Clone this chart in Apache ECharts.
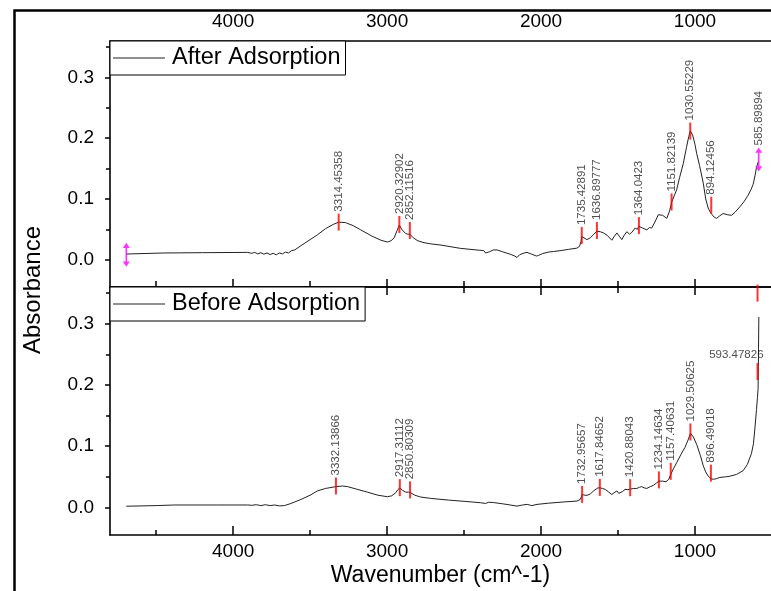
<!DOCTYPE html>
<html>
<head>
<meta charset="utf-8">
<script src="https://cdn.jsdelivr.net/npm/echarts@6/dist/echarts.min.js"></script>
<style>
html,body{margin:0;padding:0;background:#fff;}
#chart{width:771px;height:591px;}
</style>
</head>
<body>
<div id="chart"></div>
<script>
// ---------------- data ----------------
const xMajorTicks = [1000, 2000, 3000, 4000];
const xMinorTicks = [1500, 2500, 3500, 4500];
const yMajorTicks = [0, 0.1, 0.2, 0.3];
const yMinorTicks = [0.05, 0.15, 0.25, 0.35];

const afterWn = [4694,4450,4200,3905,3880,3860,3840,3820,3800,3780,3760,3740,3720,3700,3680,3660,3640,3620,3600,3560,3500,3452,3400,3350,3314,3270,3220,3171,3100,3040,2998,2975,2954,2935,2920,2905,2880,2865,2852,2830,2800,2760,2717,2650,2523,2400,2372,2360,2350,2335,2310,2285,2250,2200,2170,2156,2140,2110,2091,2060,2030,2016,1990,1950,1918,1870,1820,1767,1750,1740,1735,1725,1702,1680,1660,1637,1615,1594,1570,1540,1525,1507,1490,1475,1460,1443,1425,1410,1389,1375,1364,1340,1313,1295,1281,1260,1238,1210,1183,1165,1151,1135,1119,1100,1076,1055,1040,1030,1015,1000,989,970,946,930,914,900,888,875,859,840,817,790,762,740,708,680,655,635,622,610,600,590,586];
const afterAbs = [0.0093,0.011,0.0115,0.012,0.0105,0.012,0.0095,0.0115,0.009,0.011,0.0085,0.0105,0.008,0.011,0.0095,0.0125,0.011,0.015,0.016,0.023,0.033,0.041,0.051,0.058,0.0618,0.061,0.056,0.049,0.039,0.032,0.029,0.031,0.036,0.048,0.057,0.05,0.043,0.042,0.042,0.036,0.031,0.028,0.026,0.024,0.0186,0.0155,0.015,0.011,0.009,0.013,0.016,0.016,0.013,0.009,0.006,0.0035,0.008,0.011,0.012,0.009,0.006,0.007,0.01,0.0125,0.0135,0.015,0.017,0.019,0.022,0.03,0.038,0.036,0.033,0.036,0.041,0.047,0.046,0.044,0.04,0.032,0.038,0.044,0.038,0.033,0.04,0.046,0.042,0.045,0.052,0.05,0.055,0.052,0.049,0.053,0.052,0.062,0.074,0.073,0.068,0.08,0.095,0.105,0.115,0.135,0.158,0.185,0.203,0.212,0.205,0.19,0.175,0.155,0.126,0.1,0.085,0.078,0.074,0.07,0.068,0.072,0.076,0.074,0.073,0.078,0.087,0.096,0.106,0.116,0.124,0.138,0.152,0.16,0.162];

const beforeWn = [4694,4500,4380,4100,3905,3880,3850,3820,3790,3760,3730,3700,3667,3630,3600,3560,3500,3452,3400,3332,3290,3257,3200,3128,3060,2998,2970,2944,2930,2917,2900,2879,2860,2847,2820,2782,2717,2600,2500,2393,2360,2340,2310,2250,2200,2156,2120,2090,2060,2026,1950,1850,1767,1745,1732,1715,1702,1680,1659,1630,1617,1600,1583,1560,1540,1525,1507,1495,1486,1470,1454,1435,1420,1400,1378,1360,1346,1330,1313,1290,1270,1250,1234,1210,1188,1170,1157,1140,1119,1090,1065,1045,1029,1010,989,965,946,930,914,896,881,860,838,800,773,730,687,660,633,620,611,600,594,590,588,587,585];
const beforeAbs = [0.002,0.003,0.004,0.004,0.004,0.0035,0.0045,0.003,0.0045,0.003,0.004,0.0025,0.003,0.006,0.009,0.013,0.02,0.027,0.031,0.034,0.035,0.034,0.03,0.025,0.02,0.0175,0.019,0.024,0.029,0.032,0.028,0.025,0.025,0.024,0.02,0.017,0.0148,0.012,0.01,0.0077,0.0065,0.0085,0.008,0.006,0.004,0.0022,0.004,0.005,0.003,0.005,0.007,0.009,0.0104,0.013,0.021,0.02,0.0197,0.022,0.027,0.032,0.032,0.031,0.0295,0.025,0.021,0.024,0.027,0.023,0.021,0.026,0.0295,0.029,0.03,0.031,0.031,0.033,0.034,0.032,0.031,0.034,0.036,0.04,0.043,0.043,0.042,0.046,0.054,0.063,0.073,0.087,0.098,0.11,0.121,0.115,0.103,0.085,0.068,0.058,0.051,0.047,0.046,0.047,0.049,0.05,0.051,0.054,0.06,0.07,0.088,0.104,0.128,0.16,0.18,0.193,0.23,0.259,0.311];

const afterPeakWn = [3314.45358, 2920.32902, 2852.11516, 1735.42891, 1636.89777, 1364.0423, 1151.82139, 1030.55229, 894.12456];
const afterPeakAbs = [0.0618, 0.058, 0.048, 0.0397, 0.048, 0.056, 0.095, 0.2118, 0.0897];
const afterPeakLabels = ['3314.45358','2920.32902','2852.11516','1735.42891','1636.89777','1364.0423','1151.82139','1030.55229','894.12456'];

const afterMarkWn = [4694, 585.89894];
const afterMarkAbs = [0.0082, 0.165];
const afterMarkLabels = ['', '585.89894'];

const beforePeakWn = [3332.13866, 2917.31112, 2850.80309, 1732.95657, 1617.84652, 1420.88043, 1234.14634, 1157.40631, 1029.50625, 896.49018];
const beforePeakAbs = [0.035, 0.0323, 0.0287, 0.0213, 0.0328, 0.0323, 0.045, 0.059, 0.1233, 0.056];
const beforePeakLabels = ['3332.13866','2917.31112','2850.80309','1732.95657','1617.84652','1420.88043','1234.14634','1157.40631','1029.50625','896.49018'];

const beforeEdgeWn = [593.47826, 593.47826];
const beforeEdgeAbs = [0.35, 0.222];
const beforeEdgeLabels = ['', '593.47826'];

// ---------------- chart ----------------
const FONT = '"Liberation Sans", Arial, sans-serif';
const X_MIN = 506, X_MAX = 4800, Y_MIN = -0.045, Y_MAX = 0.36;
const AXIS_LINE = { show: true, onZero: false, lineStyle: { color: '#000', width: 1.6 } };
const NO_LINE = { show: false, onZero: false };

function pairs(xs, ys, names) {
  return xs.map((x, i) => names ? { value: [x, ys[i]], name: names[i] } : [x, ys[i]]);
}

function xAxisCfg(grid, position, opts) {
  return Object.assign({
    type: 'value', gridIndex: grid, position: position, inverse: true,
    min: X_MIN, max: X_MAX,
    axisLine: NO_LINE, axisTick: { show: false }, axisLabel: { show: false },
    splitLine: { show: false }
  }, opts);
}
function yAxisCfg(grid, opts) {
  return Object.assign({
    type: 'value', gridIndex: grid, position: 'left', min: Y_MIN, max: Y_MAX,
    axisLine: NO_LINE, axisTick: { show: false }, axisLabel: { show: false },
    splitLine: { show: false }
  }, opts);
}
const majorTick = (len) => ({ show: true, inside: true, length: len, customValues: xMajorTicks, lineStyle: { color: '#000', width: 1.5 } });
const minorTick = (len) => ({ show: true, inside: true, length: len, customValues: xMinorTicks, lineStyle: { color: '#000', width: 1.5 } });
const xLabel = (margin) => ({ show: true, customValues: xMajorTicks, margin: margin, formatter: v => String(v),
  fontSize: 19, color: '#000', fontFamily: FONT });
const yLabel = { show: true, customValues: yMajorTicks, margin: 16, formatter: v => v.toFixed(1), fontSize: 19, color: '#000', fontFamily: FONT };

const peakLabel = { show: true, position: 'top', distance: 2, rotate: 90, align: 'left', verticalAlign: 'middle',
  formatter: p => p.name, fontSize: 11.5, color: '#222', fontFamily: FONT };

const chart = echarts.init(document.getElementById('chart'), null, { renderer: 'canvas' });
chart.setOption({
  animation: false,
  backgroundColor: '#fff',
  grid: [
    { left: 110, top: 41, right: 0, height: 246 },
    { left: 110, top: 287, right: 0, height: 248 }
  ],
  xAxis: [
    xAxisCfg(0, 'top', { axisLine: AXIS_LINE, axisLabel: xLabel(10) }),
    xAxisCfg(0, 'bottom', { axisLine: AXIS_LINE, axisTick: majorTick(8) }),
    xAxisCfg(0, 'bottom', { axisTick: minorTick(6) }),
    xAxisCfg(1, 'top', { axisLine: AXIS_LINE, axisTick: majorTick(8) }),
    xAxisCfg(1, 'top', { axisTick: minorTick(6) }),
    xAxisCfg(1, 'bottom', { axisLine: AXIS_LINE, axisTick: majorTick(9), axisLabel: xLabel(7),
      name: 'Wavenumber (cm^-1)', nameLocation: 'middle', nameGap: 29,
      nameTextStyle: { fontSize: 23, color: '#000', fontFamily: FONT } }),
    xAxisCfg(1, 'bottom', { axisTick: minorTick(5) })
  ],
  yAxis: [
    yAxisCfg(0, { axisLine: AXIS_LINE,
      axisTick: { show: true, length: 5, customValues: yMajorTicks, lineStyle: { color: '#000', width: 1.5 } },
      axisLabel: yLabel }),
    yAxisCfg(0, { axisTick: { show: true, length: 4, customValues: yMinorTicks, lineStyle: { color: '#000', width: 1.5 } } }),
    yAxisCfg(1, { axisLine: AXIS_LINE,
      axisTick: { show: true, length: 5, customValues: yMajorTicks, lineStyle: { color: '#000', width: 1.5 } },
      axisLabel: yLabel }),
    yAxisCfg(1, { axisTick: { show: true, length: 4, customValues: yMinorTicks, lineStyle: { color: '#000', width: 1.5 } } })
  ],
  legend: [
    { data: ['After Adsorption'], left: 110, top: 41, orient: 'horizontal', icon: 'rect', itemWidth: 52, itemHeight: 1,
      padding: [5, 5, 5, 3], itemGap: 0, borderColor: '#000', borderWidth: 1, backgroundColor: '#fff',
      textStyle: { fontSize: 23.5, color: '#000', fontFamily: FONT, padding: [0, 0, 0, 2] } },
    { data: ['Before Adsorption'], left: 110, top: 287, orient: 'horizontal', icon: 'rect', itemWidth: 52, itemHeight: 1,
      padding: [5, 5, 5, 3], itemGap: 0, borderColor: '#000', borderWidth: 1, backgroundColor: '#fff',
      textStyle: { fontSize: 23.5, color: '#000', fontFamily: FONT, padding: [0, 0, 0, 2] } }
  ],
  series: [
    { name: 'After Adsorption', type: 'line', xAxisIndex: 0, yAxisIndex: 0, data: pairs(afterWn, afterAbs),
      symbol: 'none', showSymbol: false, lineStyle: { color: '#222', width: 1 }, itemStyle: { color: '#222' } },
    { name: 'Before Adsorption', type: 'line', xAxisIndex: 5, yAxisIndex: 2, data: pairs(beforeWn, beforeAbs),
      symbol: 'none', showSymbol: false, lineStyle: { color: '#222', width: 1 }, itemStyle: { color: '#222' } },
    { name: 'afterPeaks', type: 'scatter', xAxisIndex: 0, yAxisIndex: 0, data: pairs(afterPeakWn, afterPeakAbs, afterPeakLabels),
      symbol: 'rect', symbolSize: [2, 17], itemStyle: { color: '#ff0000' }, label: peakLabel, z: 5 },
    { name: 'afterMarks', type: 'scatter', xAxisIndex: 0, yAxisIndex: 0, data: pairs(afterMarkWn, afterMarkAbs, afterMarkLabels),
      symbol: 'path://M5,0L10,7L6.2,7L6.2,25L10,25L5,32L0,25L3.8,25L3.8,7L0,7Z', symbolSize: [7, 24],
      itemStyle: { color: '#ff00ff' }, label: peakLabel, z: 5 },
    { name: 'beforePeaks', type: 'scatter', xAxisIndex: 5, yAxisIndex: 2, data: pairs(beforePeakWn, beforePeakAbs, beforePeakLabels),
      symbol: 'rect', symbolSize: [2, 17], itemStyle: { color: '#ff0000' }, label: peakLabel, z: 5 },
    { name: 'beforeEdge', type: 'scatter', xAxisIndex: 5, yAxisIndex: 2, data: pairs(beforeEdgeWn, beforeEdgeAbs, beforeEdgeLabels),
      symbol: 'rect', symbolSize: [2, 17], itemStyle: { color: '#ff0000' }, z: 5,
      label: { show: true, position: 'top', distance: 2, align: 'right', verticalAlign: 'bottom', offset: [6, 0],
        formatter: p => p.name, fontSize: 11.5, color: '#222', fontFamily: FONT } }
  ],
  graphic: [
    { type: 'rect', left: 12, top: 8, shape: { x: 0, y: 0, width: 820, height: 640 }, silent: true,
      style: { fill: 'none', stroke: '#000', lineWidth: 2.5 } },
    { type: 'text', x: 33, y: 290, rotation: Math.PI / 2, silent: true,
      style: { text: 'Absorbance', font: '24px ' + FONT, fill: '#000', align: 'center', verticalAlign: 'middle',
        textAlign: 'center', textVerticalAlign: 'middle' } }
  ]
});
</script>
</body>
</html>
